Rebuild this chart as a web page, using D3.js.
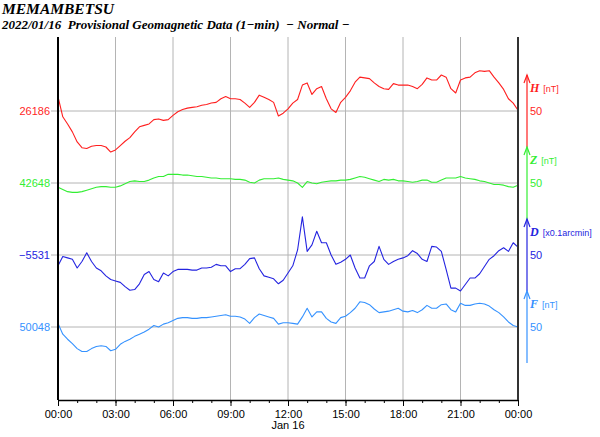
<!DOCTYPE html>
<html>
<head>
<meta charset="utf-8">
<script src="https://cdn.jsdelivr.net/npm/d3@7"></script>
<style>
  body { margin: 0; background: #fff; }
  svg { display: block; }
  .tick text { font-family: "Liberation Sans", Arial, sans-serif; font-size: 11px; fill: #000; }
</style>
</head>
<body>
<script>
// 15-minute readings, 00:00 -> 24:00 (97 samples)
const hours = d3.range(97).map(i => i * 0.25);

const majorHours = [0, 3, 6, 9, 12, 15, 18, 21, 24];
const tickLabels = ['00:00', '03:00', '06:00', '09:00', '12:00', '15:00', '18:00', '21:00', '00:00'];

const hValues = [
  26206, 26178, 26168, 26157, 26143, 26135, 26134, 26137, 26138, 26138, 26136, 26129, 26132, 26138, 26144, 26149, 26157, 26164, 26166, 26168, 26174, 26175, 26173, 26174,
  26180, 26185, 26188, 26190, 26191, 26192, 26194, 26195, 26197, 26198, 26203, 26206, 26203, 26203, 26202, 26197, 26191, 26198, 26208, 26205, 26202, 26198, 26179, 26183,
  26189, 26197, 26202, 26222, 26225, 26209, 26217, 26220, 26203, 26189, 26184, 26198, 26205, 26214, 26226, 26233, 26232, 26231, 26225, 26220, 26217, 26216, 26224, 26222,
  26222, 26222, 26220, 26217, 26223, 26232, 26229, 26229, 26236, 26233, 26217, 26211, 26229, 26232, 26233, 26239, 26242, 26241, 26242, 26233, 26225, 26216, 26203, 26197, 26187
];
const zValues = [
  42642, 42639, 42636, 42635, 42635, 42636, 42638, 42640, 42642, 42643, 42643, 42642, 42642, 42644, 42647, 42650, 42651, 42650, 42650, 42652, 42655, 42657, 42657, 42660,
  42660, 42660, 42659, 42659, 42658, 42657, 42657, 42656, 42655, 42655, 42654, 42654, 42654, 42653, 42653, 42652, 42649, 42648, 42652, 42654, 42654, 42654, 42655, 42653,
  42652, 42651, 42648, 42642, 42650, 42648, 42647, 42649, 42650, 42651, 42651, 42652, 42652, 42653, 42655, 42657, 42656, 42654, 42652, 42650, 42653, 42652, 42653, 42651,
  42651, 42650, 42649, 42650, 42652, 42652, 42649, 42649, 42652, 42655, 42655, 42655, 42657, 42655, 42654, 42653, 42651, 42650, 42648, 42646, 42646, 42645, 42643, 42642, 42645
];
const dValues = [
  -5546, -5533, -5535, -5537, -5549, -5540, -5528, -5540, -5549, -5553, -5560, -5565, -5567, -5569, -5575, -5580, -5579, -5571, -5558, -5554, -5565, -5568, -5556, -5560,
  -5554, -5551, -5551, -5551, -5552, -5552, -5549, -5549, -5548, -5544, -5546, -5546, -5554, -5550, -5550, -5544, -5536, -5535, -5550, -5560, -5562, -5564, -5571, -5566,
  -5556, -5546, -5524, -5478, -5526, -5517, -5498, -5514, -5514, -5531, -5544, -5541, -5537, -5531, -5549, -5563, -5563, -5546, -5540, -5519, -5537, -5544, -5540, -5537,
  -5535, -5532, -5525, -5529, -5537, -5540, -5519, -5520, -5526, -5551, -5577, -5577, -5581, -5572, -5563, -5563, -5557, -5547, -5537, -5532, -5525, -5521, -5526, -5514, -5520
];
const fValues = [
  50053, 50038, 50031, 50025, 50018, 50014, 50014, 50018, 50021, 50022, 50021, 50015, 50017, 50024, 50028, 50031, 50035, 50038, 50041, 50045, 50050, 50048, 50052, 50054,
  50057, 50060, 50061, 50061, 50060, 50060, 50061, 50061, 50062, 50063, 50064, 50065, 50063, 50063, 50062, 50059, 50053, 50061, 50066, 50064, 50062, 50060, 50052, 50054,
  50054, 50053, 50052, 50062, 50074, 50062, 50069, 50069, 50060, 50055, 50053, 50061, 50063, 50068, 50074, 50083, 50082, 50079, 50073, 50068, 50069, 50070, 50072, 50074,
  50070, 50069, 50071, 50068, 50072, 50078, 50074, 50074, 50079, 50080, 50072, 50069, 50081, 50078, 50078, 50080, 50081, 50080, 50077, 50072, 50068, 50062, 50055, 50050, 50048
];

const seriesKeys = ['H', 'Z', 'D', 'F'];
const baseLabels = ['26186', '42648', '\u22125531', '50048'];
const baseValues = [26186, 42648, -5531, 50048];
const unitLabels = ['[nT]', '[nT]', '[x0.1arcmin]', '[nT]'];
const colors = ['#ff1f1f', '#33ee33', '#2424e0', '#3592ff'];
const allValues = [hValues, zValues, dValues, fValues];

const WIDTH = 600;
const HEIGHT = 437;
const LEFT = 58, RIGHT = 518, TOP = 37, BOTTOM = 400;
const HALF = 36; // 50 units above/below each base line

const svg = d3.select('body').append('svg')
  .attr('width', WIDTH)
  .attr('height', HEIGHT);

// titles
svg.append('text')
  .attr('x', 2).attr('y', 14)
  .style('font', 'italic bold 15.5px "Liberation Serif", "Times New Roman", serif')
  .text('MEMAMBETSU');
svg.append('text')
  .attr('x', 2).attr('y', 29)
  .style('font', 'italic bold 13px "Liberation Serif", "Times New Roman", serif')
  .style('white-space', 'pre')
  .text('2022/01/16  Provisional Geomagnetic Data (1\u2212min)  \u2212 Normal \u2212');

const x = d3.scaleLinear().domain([0, 24]).range([LEFT, RIGHT]);
const rowY = d3.scaleLinear().domain([0, 1]).range([111, 183]);

const series = seriesKeys.map((key, i) => {
  const base = baseValues[i];
  const mid = rowY(i);
  return {
    key, base, color: colors[i], unit: unitLabels[i], label: baseLabels[i],
    values: allValues[i],
    y: d3.scaleLinear().domain([base - 50, base + 50]).range([mid + HALF, mid - HALF])
  };
});

// vertical grid
svg.append('g')
  .selectAll('line')
  .data(majorHours.slice(1, -1))
  .enter().append('line')
    .attr('x1', d => x(d)).attr('x2', d => x(d))
    .attr('y1', TOP).attr('y2', BOTTOM)
    .attr('stroke', '#b4b4b4')
    .attr('stroke-width', 1);

// horizontal base lines + left labels
const rows = svg.append('g');
series.forEach(s => {
  const yy = s.y(s.base);
  rows.append('line')
    .attr('x1', LEFT - 7).attr('x2', RIGHT)
    .attr('y1', yy).attr('y2', yy)
    .attr('stroke', '#b4b4b4')
    .attr('stroke-width', 1);
  rows.append('text')
    .attr('x', LEFT - 8).attr('y', yy + 4)
    .attr('text-anchor', 'end')
    .attr('fill', s.color)
    .style('font', '11px "Liberation Sans", Arial, sans-serif')
    .text(s.label);
});

// bottom axis: hourly minor ticks + 3-hourly labelled ticks
svg.append('g')
  .attr('transform', `translate(0, ${BOTTOM})`)
  .call(d3.axisBottom(x).tickValues(d3.range(25)).tickSize(3).tickFormat(''))
  .call(g => g.select('.domain').remove())
  .selectAll('line').attr('stroke', '#000');

const xAxis = svg.append('g')
  .attr('transform', `translate(0, ${BOTTOM})`)
  .call(d3.axisBottom(x)
    .tickValues(majorHours)
    .tickSize(6)
    .tickSizeOuter(0)
    .tickPadding(4)
    .tickFormat((d, i) => tickLabels[i]));
xAxis.select('.domain').attr('stroke', '#000').attr('stroke-width', 1.5);
xAxis.selectAll('.tick line').attr('stroke', '#000');

svg.append('text')
  .attr('x', x(12)).attr('y', 429)
  .attr('text-anchor', 'middle')
  .style('font', '11px "Liberation Sans", Arial, sans-serif')
  .text('Jan 16');

// data lines
series.forEach(s => {
  const line = d3.line()
    .x((d, i) => x(hours[i]))
    .y(d => s.y(d));
  svg.append('path')
    .datum(s.values)
    .attr('d', line)
    .attr('fill', 'none')
    .attr('stroke', s.color)
    .attr('stroke-width', 1.1)
    .attr('stroke-linejoin', 'round');
});

// left and right frame
svg.append('line')
  .attr('x1', LEFT).attr('x2', LEFT).attr('y1', TOP).attr('y2', BOTTOM)
  .attr('stroke', '#000').attr('stroke-width', 2);
svg.append('line')
  .attr('x1', RIGHT).attr('x2', RIGHT).attr('y1', TOP).attr('y2', BOTTOM)
  .attr('stroke', '#333').attr('stroke-width', 2);

// scale arrows at the right
const AX = 527;
series.forEach(s => {
  const g = svg.append('g');
  const yTop = s.y(s.base + 50);
  const yBot = s.y(s.base - 50);
  g.append('line')
    .attr('x1', AX).attr('x2', AX).attr('y1', yBot).attr('y2', yTop)
    .attr('stroke', s.color).attr('stroke-width', 1.2);
  g.append('path')
    .attr('d', `M${AX - 3},${yTop + 8}L${AX},${yTop}L${AX + 3},${yTop + 8}`)
    .attr('fill', 'none').attr('stroke', s.color).attr('stroke-width', 1.2);
  const lab = g.append('text')
    .attr('x', AX + 3).attr('y', s.y(s.base + 26))
    .attr('fill', s.color);
  lab.append('tspan')
    .style('font', 'italic bold 12px "Liberation Serif", "Times New Roman", serif')
    .text(s.key);
  lab.append('tspan')
    .attr('dx', 4)
    .style('font', '9px "Liberation Sans", Arial, sans-serif')
    .text(s.unit);
  g.append('text')
    .attr('x', AX + 3).attr('y', s.y(s.base) + 4)
    .attr('fill', s.color)
    .style('font', '11px "Liberation Sans", Arial, sans-serif')
    .text('50');
});
</script>
</body>
</html>
